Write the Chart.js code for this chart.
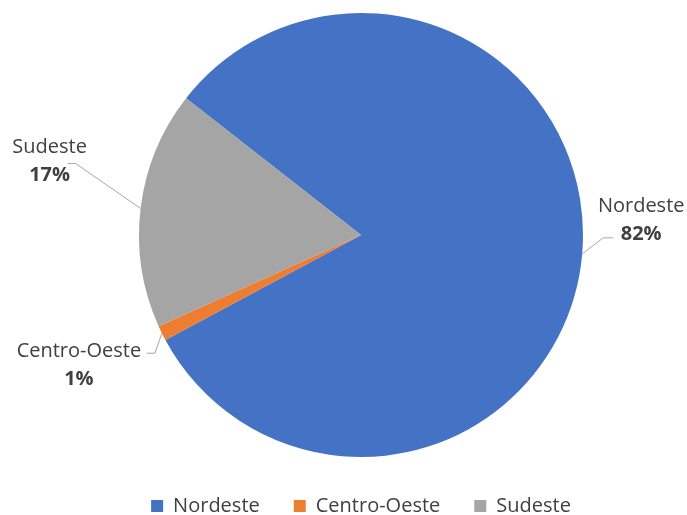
<!DOCTYPE html>
<html>
<head>
<meta charset="utf-8">
<script src="https://cdn.jsdelivr.net/npm/chart.js@4"></script>
<style>
  body { margin: 0; background: #fff; }
  #wrap { width: 687px; height: 515px; }
</style>
</head>
<body>
<div id="wrap"><canvas id="pieChart"></canvas></div>
<script>
// dados
const regioes = ['Nordeste', 'Centro-Oeste', 'Sudeste'];
const valores = [81.6, 1.1, 17.3];
const cores = ['#4472C4', '#ED7D31', '#A5A5A5'];

// posição dos rótulos relativa ao ponto da borda de cada fatia
const rotuloOffset = [
  { dx: 59, dy: -42, end: [-28, 26], elbow: [-38, 26] },
  { dx: -83, dy: 24, end: [68, -4], elbow: [76, -4] },
  { dx: -91, dy: -55, end: [18, 10], elbow: [26, 10] }
];

const rotulosPlugin = {
  id: 'rotulos',
  afterDatasetsDraw(chart) {
    const ctx = chart.ctx;
    const meta = chart.getDatasetMeta(0);
    const total = valores.reduce((a, b) => a + b, 0);
    meta.data.forEach((arc, i) => {
      const p = arc.getProps(['x', 'y', 'startAngle', 'endAngle', 'outerRadius'], true);
      const mid = (p.startAngle + p.endAngle) / 2;
      const ex = p.x + Math.cos(mid) * p.outerRadius;
      const ey = p.y + Math.sin(mid) * p.outerRadius;
      const o = rotuloOffset[i];
      const lx = ex + o.dx;
      const ly = ey + o.dy;

      // linha de chamada
      ctx.save();
      ctx.strokeStyle = '#A6A6A6';
      ctx.lineWidth = 1;
      ctx.beginPath();
      ctx.moveTo(ex, ey);
      ctx.lineTo(lx + o.elbow[0], ly + o.elbow[1]);
      ctx.lineTo(lx + o.end[0], ly + o.end[1]);
      ctx.stroke();

      // texto
      ctx.textAlign = 'center';
      ctx.textBaseline = 'alphabetic';
      ctx.fillStyle = '#404040';
      ctx.font = '20px "Open Sans"';
      ctx.fillText(regioes[i], lx, ly);
      ctx.font = 'bold 20px "Open Sans"';
      ctx.fillText(Math.round(valores[i] / total * 100) + '%', lx, ly + 28);
      ctx.restore();
    });
  }
};

new Chart(document.getElementById('pieChart'), {
  type: 'pie',
  data: {
    labels: regioes,
    datasets: [{
      data: valores,
      backgroundColor: cores,
      borderWidth: 0,
      radius: 222
    }]
  },
  options: {
    responsive: true,
    maintainAspectRatio: false,
    animation: false,
    rotation: -52,
    layout: { padding: { top: 8, left: 35, right: 0, bottom: 0 } },
    plugins: {
      tooltip: { enabled: false },
      legend: {
        position: 'bottom',
        maxHeight: 53,
        labels: {
          boxWidth: 12,
          boxHeight: 12,
          padding: 34,
          color: '#404040',
          font: { family: 'Open Sans', size: 20 }
        }
      }
    }
  },
  plugins: [rotulosPlugin]
});
</script>
</body>
</html>
